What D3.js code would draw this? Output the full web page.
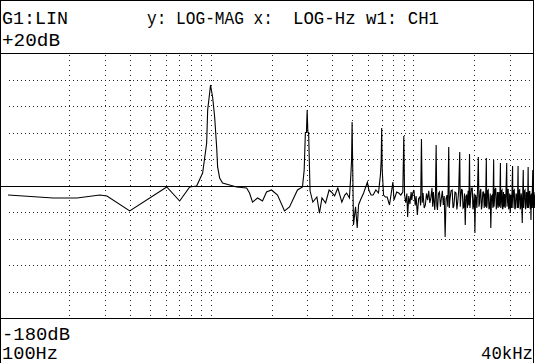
<!DOCTYPE html>
<html>
<head>
<meta charset="utf-8">
<script src="https://cdn.jsdelivr.net/npm/d3@7"></script>
<style>
  html, body { margin: 0; padding: 0; background: #fff; }
  svg { display: block; }
</style>
</head>
<body>
<div id="chart"></div>
<script>
// ── Spectrum trace (Hz, dB) ──────────────────────────────────────────────────
const freqHz = [
  100, 119, 167, 219, 284, 308, 399, 608, 704, 789, 854, 914, 957, 968, 990,
  1000, 1024, 1048, 1072, 1084, 1109, 1147, 1242, 1345, 1507, 1558, 1612, 1707,
  1806, 1890, 2000, 2142, 2319, 2454, 2687, 2844, 2900, 2940, 2975, 3000, 3025,
  3050, 3100, 3200, 3350, 3450, 3550, 3700, 3850, 3950, 4100, 4250, 4450, 4600,
  4700, 4850, 4930, 4970, 5000, 5030, 5080, 5200, 5300, 5380, 5500, 5700, 5950,
  6050, 6200, 6350, 6550, 6750, 6900, 6960, 7000, 7040, 7150, 7300, 7450, 7650,
  7950, 8050, 8300, 8500, 8700, 8900,
  9000, 9080, 9200, 9320, 9400, 9520, 9650, 9780, 9850, 9950, 10100, 10250, 10350,
  10500, 10650, 10800, 10900, 11000, 11100, 11200, 11350, 11500, 11650, 11800,
  11950, 12100, 12250, 12400, 12500, 12600, 12700, 12800, 12900, 13000, 13100,
  13200, 13350, 13500, 13650, 13800, 13950, 14100, 14250, 14400, 14550, 14700,
  14850, 15000, 15100, 15200, 15400, 15600, 15750, 15900, 16100, 16300, 16450,
  16600, 16800, 17000, 17100, 17200, 17350, 17500, 17650, 17800, 17950, 18100,
  18250, 18400, 18550, 18700, 18850, 19000, 19100, 19200, 19400, 19600, 19750,
  19900, 20050, 20200, 20350, 20500, 20650, 20800, 21000, 21150, 21300, 21450,
  21600, 21750, 21900, 22100, 22300, 22450, 22600, 22800, 23000, 23100, 23200,
  23350, 23500, 23700, 23900, 24050, 24200, 24400, 24600, 24800, 25000, 25100,
  25200, 25400, 25600, 25750, 25900, 26100, 26300, 26500, 26700, 26850, 27000,
  27100, 27200, 27350, 27500, 27650, 27800, 27950, 28100, 28300, 28500, 28750,
  29000, 29100, 29200, 29350, 29500, 29650, 29800, 30000, 30200, 30400, 30600,
  30800, 31000, 31100, 31200, 31400, 31600, 31800, 32000, 32250, 32500, 32700,
  32850, 33000, 33100, 33200, 33400, 33600, 33800, 34000, 34150, 34300, 34450,
  34600, 34800, 35000, 35150, 35300, 35500, 35700, 35900, 36100, 36300, 36500,
  36700, 36850, 37000, 37150, 37300, 37500, 37700, 37900, 38050, 38200, 38400,
  38600, 38800, 39000, 39150, 39300, 39500, 39700, 39850, 40000
];
const levelDb = [
  -87.2, -87.9, -89.4, -89.4, -87.2, -87.9, -99.2, -81.1, -91.7, -81.1, -80.4, -70.6, -47.9, -23.0, -10.2,
  -4.2, -13.2, -28.3, -50.9, -66.0, -74.3, -78.1, -79.6, -81.1, -81.9, -85.7, -92.5, -89.4,
  -91.7, -84.9, -83.4, -87.2, -99.2, -96.2, -83.4, -81.1, -68.3, -40.0, -40.0, -23.0, -40.0,
  -40.0, -84.0, -92.5, -88.7, -100.8, -89.4, -93.2, -83.4, -84.9, -87.9, -81.9, -92.5, -87.2,
  -85.7, -89.4, -72.0, -61.0, -32.1, -61.0, -109.8, -96.0, -112.1, -94.7, -91.0, -85.7, -77.4,
  -83.4, -87.2, -87.2, -83.4, -85.7, -72.0, -61.0, -36.6, -68.0, -87.2, -88.7, -88.7, -94.7,
  -77.4, -91.0, -84.9, -85.7, -87.2, -84.9,
  -42.6, -87, -93, -86, -103.8, -88, -94, -85, -91, -86, -83.4, -95, -88,
  -102.3, -90, -88.7, -95, -44.9, -93, -85.7, -97, -94.7, -86, -91,
  -84, -93.2, -89, -81.9, -96, -84.9, -92, -98.5, -87, -49.4, -95,
  -98.5, -86, -84.9, -96, -89.4, -84, -94.7, -88, -118.9, -90, -87.2,
  -96, -50.9, -97, -91, -84, -83.4, -97, -95.5, -85, -85.7, -98,
  -93.2, -84, -54.7, -96, -89.4, -83, -83.4, -97, -96.2, -86, -109.8,
  -88, -87.2, -97, -84, -95, -56.2, -97, -91, -82, -81.9, -98,
  -94.7, -86, -115.8, -87, -89.4, -97, -84, -58.5, -96, -93.2, -84,
  -82.6, -98, -95.5, -85, -84.9, -97, -86, -96, -59.2, -97, -94.7,
  -84, -83.4, -98, -96.2, -86, -112.1, -88, -87.2, -97, -60.8, -96,
  -92.5, -83, -81.9, -98, -95.5, -85, -97, -84.9, -96, -86, -63,
  -97, -94.7, -84, -83.4, -98, -97, -85, -96, -86.4, -97, -85,
  -63, -96, -93.2, -84, -82.6, -98, -96.2, -86, -100.8, -87, -97,
  -85, -65.3, -97, -90.9, -84, -83.4, -98, -97, -86, -87.9, -97,
  -85, -65.3, -97, -94, -84, -83.4, -98, -96.2, -86, -87.9, -97,
  -108.3, -86, -68.3, -97, -90.9, -84, -83.4, -98, -95.5, -85, -86.4,
  -97, -86, -66, -97, -94.7, -85, -84.2, -98, -87, -106, -86,
  -97, -85, -68.3, -97, -90.9, -85, -87.2, -97, -88
];

// grid positions (Hz / dB)
const gridFreqs = [200, 300, 400, 500, 600, 700, 800, 900, 1000,
                   2000, 3000, 4000, 5000, 6000, 7000, 8000, 9000, 10000,
                   20000, 30000];
const gridDb = [0, -20, -40, -60, -100, -120, -140, -160];
const refDb = -80;

const headerLeft  = "G1:LIN";
const headerMid   = "y: LOG-MAG x:";
const headerRight = "LOG-Hz w1: CH1";
const topLabel    = "+20dB";
const bottomLabel = "-180dB";
const startLabel  = "100Hz";
const stopLabel   = "40kHz";

// ── Layout ───────────────────────────────────────────────────────────────────
const W = 535, H = 363;
const plot = { left: 7, right: 535, top: 53, bottom: 318 };

const svg = d3.select("#chart").append("svg")
  .attr("width", W).attr("height", H)
  .attr("viewBox", `0 0 ${W} ${H}`);

const x = d3.scaleLog().domain([100, 40000]).range([plot.left + 1, plot.right]);
const y = d3.scaleLinear().domain([20, -180]).range([plot.top, plot.bottom]);

const frame = svg.append("g")
  .attr("stroke", "#000").attr("stroke-width", 1)
  .attr("shape-rendering", "crispEdges");

// outer frame: top, left, right
frame.append("line").attr("x1", 0).attr("x2", 534).attr("y1", 0.5).attr("y2", 0.5);
frame.append("line").attr("x1", 0.5).attr("x2", 0.5).attr("y1", 0).attr("y2", H);
frame.append("line").attr("x1", 533.5).attr("x2", 533.5).attr("y1", 0).attr("y2", H);
// header separator + plot bottom
frame.append("line").attr("x1", 0).attr("x2", 534).attr("y1", plot.top + 0.5).attr("y2", plot.top + 0.5);
frame.append("line").attr("x1", 0).attr("x2", 534).attr("y1", plot.bottom + 0.5).attr("y2", plot.bottom + 0.5);

// dotted grid
const grid = svg.append("g")
  .attr("stroke", "#222").attr("stroke-width", 1)
  .attr("shape-rendering", "crispEdges");

grid.selectAll("line.v").data(gridFreqs).join("line")
  .attr("class", "v")
  .attr("x1", d => Math.round(x(d)) + 0.5).attr("x2", d => Math.round(x(d)) + 0.5)
  .attr("y1", plot.top + 2).attr("y2", plot.bottom)
  .attr("stroke-dasharray", "1,4");

grid.selectAll("line.h").data(gridDb).join("line")
  .attr("class", "h")
  .attr("x1", plot.left + 2).attr("x2", 533)
  .attr("y1", d => Math.round(y(d)) + 0.5).attr("y2", d => Math.round(y(d)) + 0.5)
  .attr("stroke-dasharray", "1,3");

// solid reference line
svg.append("line")
  .attr("x1", 0).attr("x2", 533)
  .attr("y1", Math.round(y(refDb)) + 0.5).attr("y2", Math.round(y(refDb)) + 0.5)
  .attr("stroke", "#000").attr("stroke-width", 1.3)
  .attr("shape-rendering", "crispEdges");

// trace
const pts = freqHz.map((f, i) => [f, levelDb[i]]);
svg.append("path")
  .datum(pts)
  .attr("fill", "none")
  .attr("stroke", "#000")
  .attr("stroke-width", 1.1)
  .attr("stroke-linejoin", "miter")
  .attr("d", d3.line().x(d => x(d[0])).y(d => y(d[1])));

// ── Screen text (narrow, tall instrument font) ──────────────────────────────
function label(txt, xPos, yPos, len, anchor) {
  svg.append("text")
    .attr("x", xPos).attr("y", yPos)
    .attr("text-anchor", anchor || "start")
    .attr("font-family", "'Liberation Mono', 'DejaVu Sans Mono', monospace")
    .attr("font-size", 18)
    .attr("fill", "#000")
    .attr("textLength", len)
    .attr("lengthAdjust", "spacingAndGlyphs")
    .text(txt);
}

label(headerLeft, 2, 24, 66);
label(headerMid, 147, 24, 126);
label(headerRight, 293, 24, 146);
label(topLabel, 2, 46, 58);
label(bottomLabel, 2, 340, 68);
label(startLabel, 2, 359, 56);
label(stopLabel, 533, 359, 52, "end");
</script>
</body>
</html>
